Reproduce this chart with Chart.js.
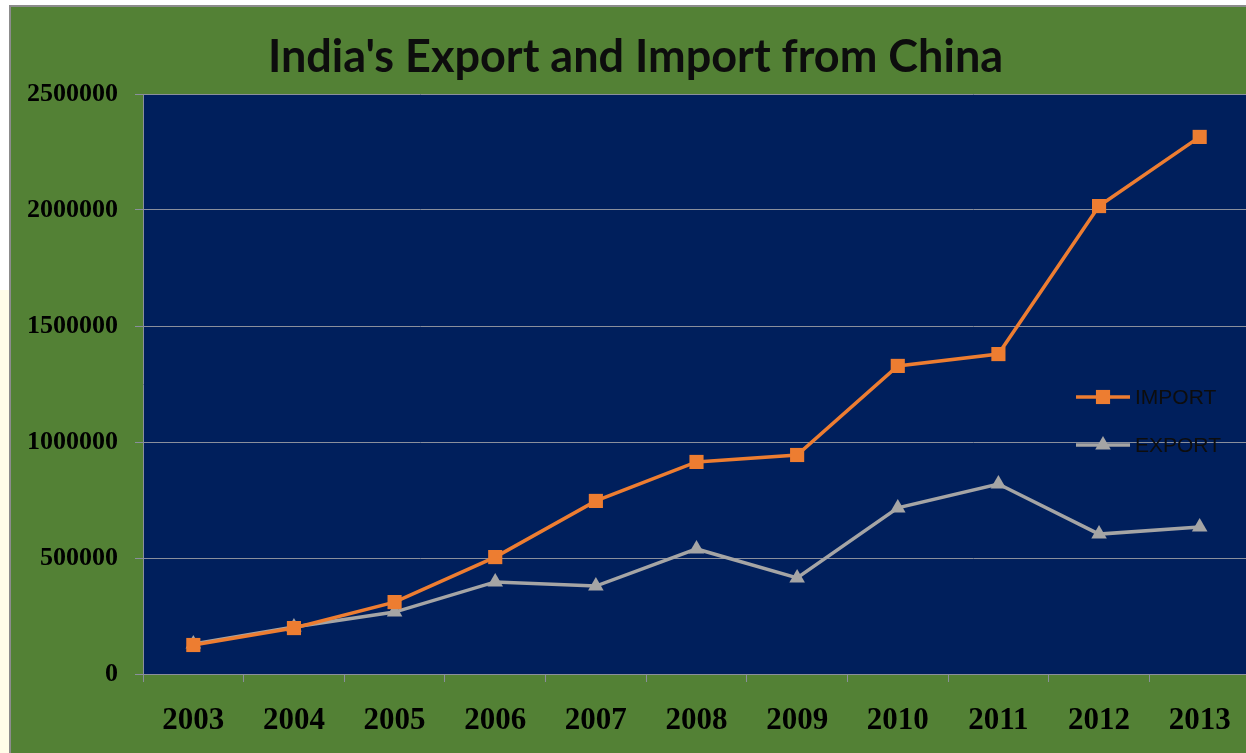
<!DOCTYPE html>
<html>
<head>
<meta charset="utf-8">
<script src="https://cdn.jsdelivr.net/npm/chart.js@4.4.1/dist/chart.umd.min.js"></script>
<style>
    html, body { margin: 0; padding: 0; background: #ffffff; overflow: hidden; }
    #strip { position: absolute; left: 0; top: 290px; width: 9px; height: 463px; background: #fffde8; }
    #frame {
        position: absolute; left: 9px; top: 5px; width: 1237px; height: 748px;
        border-left: 2px solid #8c8c8c; border-top: 2px solid #8c8c8c;
        background: #538135; overflow: hidden;
    }
</style>
</head>
<body>
<div id="strip"></div>
<div id="frame"><canvas id="chart" width="1249" height="746"></canvas></div>
<script>
const years = ["2003", "2004", "2005", "2006", "2007", "2008", "2009", "2010", "2011", "2012", "2013"];
const importValues = [125000, 198000, 310000, 504000, 746000, 914000, 944000, 1328000, 1379000, 2017000, 2315000];
const exportValues = [129000, 203000, 267000, 397000, 379000, 539000, 414000, 716000, 819000, 603000, 634000];

const navy = "#001f5c";
const gridGrey = "#8a8f9c";

const plotBackground = {
    id: "plotBackground",
    beforeDraw(chart) {
        const { ctx, chartArea: a } = chart;
        ctx.save();
        ctx.fillStyle = navy;
        ctx.fillRect(a.left, a.top, a.right - a.left, a.bottom - a.top);
        ctx.restore();
    }
};

// legend drawn inside plot, at the right
const insideLegend = {
    id: "insideLegend",
    afterDatasetsDraw(chart) {
        const ctx = chart.ctx;
        const x0 = 1065, rows = [390, 438];
        chart.data.datasets.forEach((ds, i) => {
            const y = rows[i];
            ctx.save();
            ctx.strokeStyle = ds.borderColor;
            ctx.lineWidth = 3.5;
            ctx.beginPath();
            ctx.moveTo(x0, y);
            ctx.lineTo(x0 + 54, y);
            ctx.stroke();
            ctx.fillStyle = ds.backgroundColor;
            Chart.helpers.drawPoint(ctx, {
                pointStyle: ds.pointStyle,
                radius: ds.pointRadius,
                borderWidth: 0
            }, x0 + 27, y);
            ctx.fillStyle = "#0d0d0d";
            ctx.font = "21px 'Liberation Sans', Arial, sans-serif";
            ctx.textBaseline = "middle";
            ctx.fillText(ds.label, x0 + 59, y + 1);
            ctx.restore();
        });
    }
};

new Chart(document.getElementById("chart"), {
    type: "line",
    data: {
        labels: years,
        datasets: [{
            label: "IMPORT",
            data: importValues,
            borderColor: "#ed7d31",
            backgroundColor: "#ed7d31",
            borderWidth: 3.5,
            pointStyle: "rect",
            pointRadius: 10,
            pointBorderWidth: 0,
            tension: 0
        }, {
            label: "EXPORT",
            data: exportValues,
            borderColor: "#a5a5a5",
            backgroundColor: "#a5a5a5",
            borderWidth: 3.5,
            pointStyle: "triangle",
            pointRadius: 9,
            pointBorderWidth: 0,
            tension: 0
        }]
    },
    options: {
        responsive: false,
        maintainAspectRatio: false,
        animation: false,
        layout: { padding: { left: 0, right: 0, top: 0, bottom: 0 } },
        plugins: {
            legend: { display: false },
            tooltip: { enabled: false },
            title: {
                display: true,
                text: "India's Export and Import from China",
                color: "#0d0d0d",
                font: { family: "Lato, 'Open Sans', sans-serif", size: 45, weight: "bold" },
                padding: { top: 23, bottom: 10 }
            }
        },
        scales: {
            x: {
                offset: true,
                grid: {
                    offset: true,
                    drawOnChartArea: false,
                    drawTicks: true,
                    tickLength: 8,
                    color: gridGrey
                },
                border: { color: gridGrey, width: 1 },
                ticks: {
                    color: "#000000",
                    padding: 20,
                    maxRotation: 0,
                    font: { family: "'Liberation Serif', 'Times New Roman', serif", size: 31, weight: "bold" }
                },
                afterFit(scale) { scale.height = 79; }
            },
            y: {
                min: 0,
                max: 2500000,
                ticks: {
                    stepSize: 500000,
                    color: "#000000",
                    padding: 17,
                    callback: value => String(value),
                    font: { family: "'Liberation Serif', 'Times New Roman', serif", size: 26, weight: "bold" }
                },
                grid: { color: gridGrey, tickLength: 8 },
                border: { color: gridGrey, width: 1 },
                afterFit(scale) { scale.width = 132; }
            }
        }
    },
    plugins: [plotBackground, insideLegend]
});
</script>
</body>
</html>
